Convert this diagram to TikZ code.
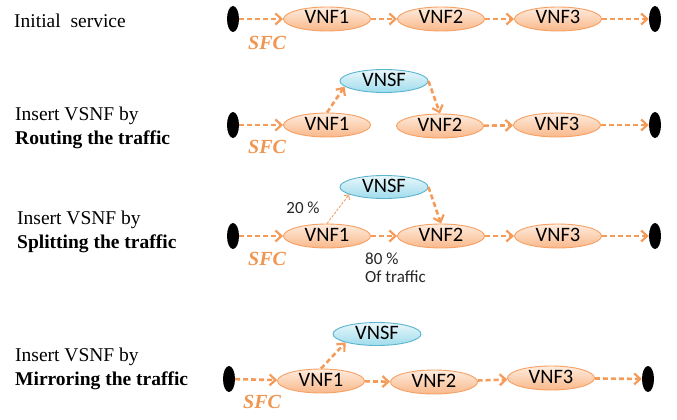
\documentclass[tikz,border=0pt]{standalone}
\usepackage{fontspec}
\setmainfont{Liberation Serif}
\newfontfamily\calib{Carlito}
\usetikzlibrary{shapes.geometric,arrows.meta}
\definecolor{orln}{RGB}{245,155,90}
\definecolor{orbd}{RGB}{246,160,100}
\definecolor{ortop}{RGB}{254,236,222}
\definecolor{orbot}{RGB}{249,184,138}
\definecolor{blbd}{RGB}{90,180,205}
\definecolor{bltop}{RGB}{232,247,251}
\definecolor{blbot}{RGB}{160,220,236}
\definecolor{sfccol}{RGB}{240,150,80}
\tikzset{
  vnf/.style={ellipse, draw=orbd, line width=0.9pt, top color=ortop, bottom color=orbot,
    minimum width=87pt, minimum height=24pt, inner sep=0pt, text height=13pt, text depth=3pt,
    font=\calib\fontsize{20.5}{22}\selectfont},
  vnsf/.style={vnf, draw=blbd, top color=bltop, bottom color=blbot, minimum width=88pt, minimum height=23pt},
  endpt/.style={ellipse, fill=black, minimum width=12pt, minimum height=26pt, inner sep=0pt},
  flow/.style={draw=orln, line width=2.6pt, dash pattern=on 5pt off 3pt,
    -{Straight Barb[length=6pt,width=11pt,line width=2.2pt]}},
  thinflow/.style={draw=orln, line width=0.9pt, dash pattern=on 2.5pt off 1.5pt,
    -{Straight Barb[length=3.5pt,width=7pt,line width=0.9pt]}},
  sfc/.style={anchor=west, inner sep=0pt, text=sfccol, font=\fontsize{20}{22}\selectfont\bfseries\itshape},
  lbl/.style={anchor=west, inner sep=0pt, align=left, font=\fontsize{19.5}{23.5}\selectfont},
  pct/.style={inner sep=0pt, align=left, text=black!85, font=\calib\fontsize{17}{18}\selectfont}
}
\begin{document}
\begin{tikzpicture}[x=1pt,y=-1pt]
\useasboundingbox (0,0) rectangle (677,420);
% ---------- Row 1
\node[lbl] (t1) at (14,21) {Initial\ \ service};
\node[endpt] (s1) at (233,19) {};
\node[vnf] (a1) at (327,19) {VNF1};
\node[vnf] (b1) at (441,19) {VNF2};
\node[vnf] (c1) at (558,19) {VNF3};
\node[endpt] (e1) at (655,19) {};
\node[sfc] (f1) at (248,43) {SFC};
\draw[flow] (s1) -- (a1);
\draw[flow] (a1) -- (b1);
\draw[flow] (b1) -- (c1);
\draw[flow] (c1) -- (e1);
% ---------- Row 2
\node[lbl] (t2) at (15,128) {Insert VSNF by\\\textbf{Routing the traffic}};
\node[endpt] (s2) at (233,125) {};
\node[vnf] (a2) at (327,125) {VNF1};
\node[vnsf] (v2) at (384,81) {VNSF};
\node[vnf] (b2) at (440,126) {VNF2};
\node[vnf] (c2) at (557,125) {VNF3};
\node[endpt] (e2) at (655,125) {};
\node[sfc] (f2) at (248,147) {SFC};
\draw[flow] (s2) -- (a2);
\draw[flow] (a2.north) -- (v2.188);
\draw[flow] (v2.east) -- (b2.north);
\draw[flow] (b2) -- (c2);
\draw[flow] (c2) -- (e2);
% ---------- Row 3
\node[lbl] (t3) at (17,232) {Insert VSNF by\\\textbf{Splitting the traffic}};
\node[endpt] (s3) at (233,236) {};
\node[vnf] (a3) at (327,236) {VNF1};
\node[vnsf] (v3) at (384,187) {VNSF};
\node[vnf] (b3) at (441,236) {VNF2};
\node[vnf] (c3) at (558,236) {VNF3};
\node[endpt] (e3) at (655,236) {};
\node[sfc] (f3) at (248,259) {SFC};
\node[pct] (p20) at (303,208) {20 \%};
\node[pct, anchor=north west] (p80) at (365,253) {80 \%\\Of traffic};
\draw[flow] (s3) -- (a3);
\draw[thinflow] (a3.north) -- (v3.192);
\draw[flow] (v3.east) -- (b3.north);
\draw[flow] (a3) -- (b3);
\draw[flow] (b3) -- (c3);
\draw[flow] (c3) -- (e3);
% ---------- Row 4
\node[lbl] (t4) at (15,369) {Insert VSNF by\\\textbf{Mirroring the traffic}};
\node[endpt] (s4) at (229,379) {};
\node[vnf] (a4) at (321,381) {VNF1};
\node[vnsf] (v4) at (377,334) {VNSF};
\node[vnf] (b4) at (434,382) {VNF2};
\node[vnf] (c4) at (551,378) {VNF3};
\node[endpt] (e4) at (648,379) {};
\node[sfc] (f4) at (243,402) {SFC};
\draw[flow] (s4) -- (a4);
\draw[flow] (a4.north) -- (v4.south west);
\draw[flow] (a4) -- (b4);
\draw[flow] (b4) -- (c4);
\draw[flow] (c4) -- (e4);
\end{tikzpicture}
\end{document}
